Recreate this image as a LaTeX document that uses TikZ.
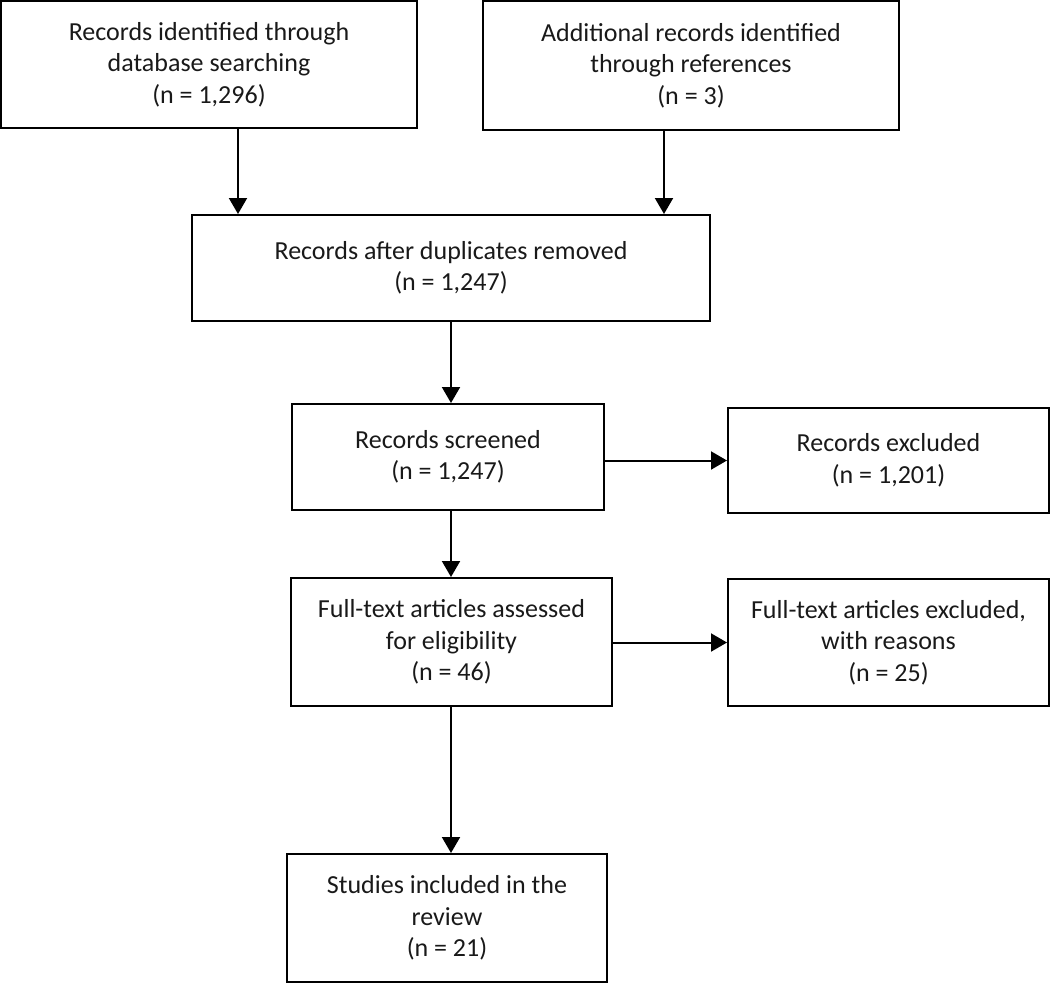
\documentclass[tikz,border=0pt]{standalone}
\usepackage{fontspec}
\setmainfont{Carlito}
\usetikzlibrary{arrows.meta}
\tikzset{
  box/.style={draw=black, line width=2pt, inner sep=0pt, align=center,
    font=\fontsize{26}{31.5}\selectfont, text=black!90},
  arr/.style={draw=black, line width=2pt, -{Triangle[width=18pt,length=16pt]}}
}
\begin{document}
\begin{tikzpicture}[x=1pt,y=-1pt]
\useasboundingbox (0,0) rectangle (1050,983);
\node[box, minimum width=416pt, minimum height=127pt] (b1) at (209,64.5)
  {Records identified through\\database searching\\(n = 1,296)};
\node[box, minimum width=416pt, minimum height=129pt] (b2) at (691,65.5)
  {Additional records identified\\through references\\(n = 3)};
\node[box, minimum width=518pt, minimum height=106pt] (b3) at (451,268)
  {Records after duplicates removed\\(n = 1,247)};
\node[box, minimum width=312pt, minimum height=106pt] (b4) at (448,457)
  {Records screened\\(n = 1,247)};
\node[box, minimum width=321pt, minimum height=105pt] (b5) at (888.5,460.5)
  {Records excluded\\(n = 1,201)};
\node[box, minimum width=321pt, minimum height=128pt] (b6) at (451.5,642)
  {Full-text articles assessed\\for eligibility\\(n = 46)};
\node[box, minimum width=321pt, minimum height=127pt] (b7) at (888.5,642.5)
  {Full-text articles excluded,\\with reasons\\(n = 25)};
\node[box, minimum width=320pt, minimum height=128pt] (b8) at (447,918)
  {Studies included in the\\review\\(n = 21)};
\coordinate (x1) at (238,0);
\coordinate (x2) at (664,0);
\coordinate (x3) at (451,0);
\draw[arr] (b1.south -| x1) -- (b3.north -| x1);
\draw[arr] (b2.south -| x2) -- (b3.north -| x2);
\draw[arr] (b3.south -| x3) -- (b4.north -| x3);
\draw[arr] (b4.east |- b5.west) -- (b5.west);
\draw[arr] (b4.south -| x3) -- (b6.north -| x3);
\draw[arr] (b6.east |- b7.west) -- (b7.west);
\draw[arr] (b6.south -| x3) -- (b8.north -| x3);
\end{tikzpicture}
\end{document}
